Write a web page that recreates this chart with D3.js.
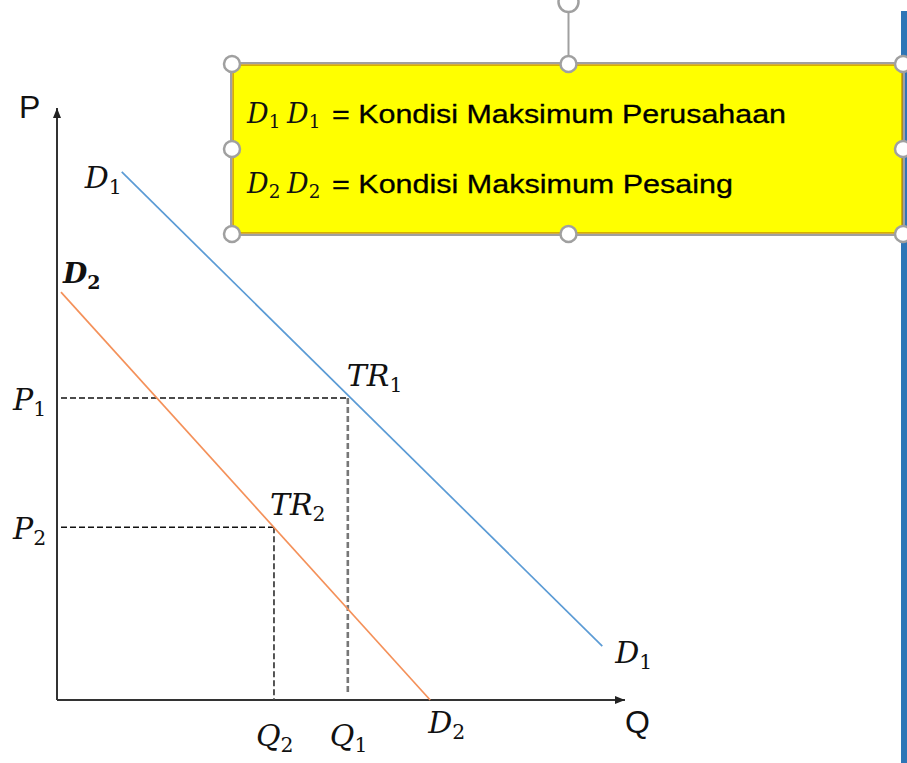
<!DOCTYPE html>
<html>
<head>
<meta charset="utf-8">
<script src="https://cdn.jsdelivr.net/npm/d3@7"></script>
<style>
  body { margin: 0; background: #fff; }
  svg { display: block; }
</style>
</head>
<body>
<svg id="drawing_region"></svg>
<script>
// demand curves, in chart units (Q, P)
const d1Q = [1.14, 9.6];
const d1P = [8.92, 0.91];
const d2Q = [0.07, 6.57];
const d2P = [6.89, 0];

// revenue points TR1, TR2 and their P / Q labels
const trSubs = ["1", "2"];
const trQ = [5.12, 3.82];
const trP = [5.10, 2.92];

// legend box
const legendSubs = ["1", "2"];
const legendText = ["= Kondisi Maksimum Perusahaan", "= Kondisi Maksimum Pesaing"];
const axisNames = ["Q", "P"];

const config = {
    parent: '#drawing_region',
    width: 907,
    height: 763
};

const svg = d3.select(config.parent)
    .attr('width', config.width)
    .attr('height', config.height);

const xscale = d3.scaleLinear().domain([0, 10]).range([57, 625]);
const yscale = d3.scaleLinear().domain([0, 10]).range([700, 108]);

// arrow head
svg.append('defs').append('marker')
    .attr('id', 'arrow')
    .attr('viewBox', '0 0 10 10')
    .attr('refX', 10).attr('refY', 5)
    .attr('markerWidth', 10).attr('markerHeight', 10)
    .attr('markerUnits', 'userSpaceOnUse')
    .attr('orient', 'auto')
    .append('path')
    .attr('d', 'M0,1 L10,5 L0,9 Z')
    .attr('fill', '#222');

// blue bar at the right edge
svg.append('rect')
    .attr('x', 901).attr('y', 11)
    .attr('width', 6).attr('height', 752)
    .attr('fill', '#2e75b6');

// helper for italic math labels with subscript
function mathLabel(parent, x, y, base, sub, size, weight) {
    const t = parent.append('text')
        .attr('x', x).attr('y', y)
        .attr('font-family', 'DejaVu Serif')
        .attr('font-style', 'italic')
        .attr('font-weight', weight || 'normal')
        .attr('font-size', size)
        .attr('fill', '#111');
    t.append('tspan').text(base);
    t.append('tspan')
        .attr('font-style', 'normal')
        .attr('font-size', size * 0.68)
        .attr('dy', size * 0.2)
        .text(sub);
    return t;
}

const chart = svg.append('g');

// axes
chart.append('line')
    .attr('x1', xscale(0)).attr('y1', yscale(0))
    .attr('x2', xscale(0)).attr('y2', yscale(10))
    .attr('stroke', '#333').attr('stroke-width', 2)
    .attr('marker-end', 'url(#arrow)');
chart.append('line')
    .attr('x1', xscale(0)).attr('y1', yscale(0))
    .attr('x2', xscale(10)).attr('y2', yscale(0))
    .attr('stroke', '#333').attr('stroke-width', 2)
    .attr('marker-end', 'url(#arrow)');

chart.append('text')
    .attr('x', xscale(10)).attr('y', yscale(0) + 33)
    .attr('font-family', 'Liberation Sans').attr('font-size', 32)
    .attr('fill', '#111').text(axisNames[0]);
chart.append('text')
    .attr('x', 19).attr('y', yscale(10) + 10)
    .attr('font-family', 'Liberation Sans').attr('font-size', 32)
    .attr('fill', '#111').text(axisNames[1]);

// dashed guides
trQ.forEach((q, i) => {
    chart.append('line')
        .attr('x1', xscale(0) + 4).attr('y1', yscale(trP[i]))
        .attr('x2', xscale(q)).attr('y2', yscale(trP[i]))
        .attr('stroke', '#111').attr('stroke-width', 1.5)
        .attr('stroke-dasharray', '6,3');
    chart.append('line')
        .attr('x1', xscale(q)).attr('y1', yscale(trP[i]))
        .attr('x2', xscale(q)).attr('y2', yscale(0) - (i === 0 ? 5 : 0))
        .attr('stroke', i === 0 ? '#777' : '#444').attr('stroke-width', i === 0 ? 2.6 : 1.8)
        .attr('stroke-dasharray', '6,3');
});

// demand lines
const line = d3.line().x(d => xscale(d[0])).y(d => yscale(d[1]));
chart.append('path')
    .attr('d', line(d1Q.map((q, i) => [q, d1P[i]])))
    .attr('fill', 'none').attr('stroke', '#5b9bd5').attr('stroke-width', 1.7);
chart.append('path')
    .attr('d', line(d2Q.map((q, i) => [q, d2P[i]])))
    .attr('fill', 'none').attr('stroke', '#f4915a').attr('stroke-width', 1.7);

// curve labels
mathLabel(chart, xscale(d1Q[0]) - 37, yscale(d1P[0]) + 16, 'D', '1', 30);
mathLabel(chart, xscale(d1Q[1]) + 13, yscale(d1P[1]) + 17, 'D', '1', 30);
mathLabel(chart, xscale(d2Q[0]) + 2, yscale(d2P[0]) - 9, 'D', '2', 28, 'bold');
mathLabel(chart, xscale(d2Q[1]) - 2, yscale(d2P[1]) + 33, 'D', '2', 30);

// TR, P and Q labels
trQ.forEach((q, i) => {
    mathLabel(chart, xscale(q) - (i === 0 ? 1 : 4), yscale(trP[i]) - 12, 'TR', trSubs[i], 30);
    mathLabel(chart, 13, yscale(trP[i]) + 12, 'P', trSubs[i], 30);
    mathLabel(chart, xscale(q) - 18, yscale(0) + 46, 'Q', trSubs[i], 30);
});

// legend box
const box = { x: 232, y: 64, w: 671, h: 170 };
const legend = svg.append('g');

legend.append('line')
    .attr('x1', box.x + box.w / 2 + 1).attr('y1', 12)
    .attr('x2', box.x + box.w / 2 + 1).attr('y2', box.y)
    .attr('stroke', '#a0a0a0').attr('stroke-width', 2);
legend.append('circle')
    .attr('cx', box.x + box.w / 2 + 1).attr('cy', 2).attr('r', 10)
    .attr('fill', '#fff').attr('stroke', '#a0a0a0').attr('stroke-width', 2.5);

legend.append('rect')
    .attr('x', box.x - 1).attr('y', box.y - 1)
    .attr('width', box.w + 2).attr('height', box.h + 2)
    .attr('fill', 'none').attr('stroke', '#a0a0a0').attr('stroke-width', 2);
legend.append('rect')
    .attr('x', box.x + 1).attr('y', box.y + 1)
    .attr('width', box.w - 2).attr('height', box.h - 2)
    .attr('fill', '#ffff00').attr('stroke', '#c89400').attr('stroke-width', 1.5);

legendSubs.forEach((s, i) => {
    const by = 123 + i * 70;
    mathLabel(legend, 247, by, 'D', s, 27);
    mathLabel(legend, 287, by, 'D', s, 27);
    legend.append('text')
        .attr('x', 332).attr('y', by)
        .attr('font-family', 'Liberation Sans').attr('font-size', 26)
        .attr('fill', '#000')
        .attr('stroke', '#000').attr('stroke-width', 0.3)
        .attr('textLength', i === 0 ? 454 : 401)
        .attr('lengthAdjust', 'spacingAndGlyphs')
        .text(legendText[i]);
});

// selection handles
const hx = [box.x, box.x + box.w / 2 + 1, box.x + box.w];
const hy = [box.y, box.y + box.h / 2, box.y + box.h];
const handles = [];
hy.forEach((y, j) => hx.forEach((x, i) => {
    if (!(i === 1 && j === 1)) handles.push([x, y]);
}));
legend.selectAll('circle.handle')
    .data(handles)
    .enter()
    .append('circle')
    .attr('class', 'handle')
    .attr('cx', d => d[0]).attr('cy', d => d[1])
    .attr('r', 8)
    .attr('fill', '#fff').attr('stroke', '#a0a0a0').attr('stroke-width', 2.5);
</script>
</body>
</html>
